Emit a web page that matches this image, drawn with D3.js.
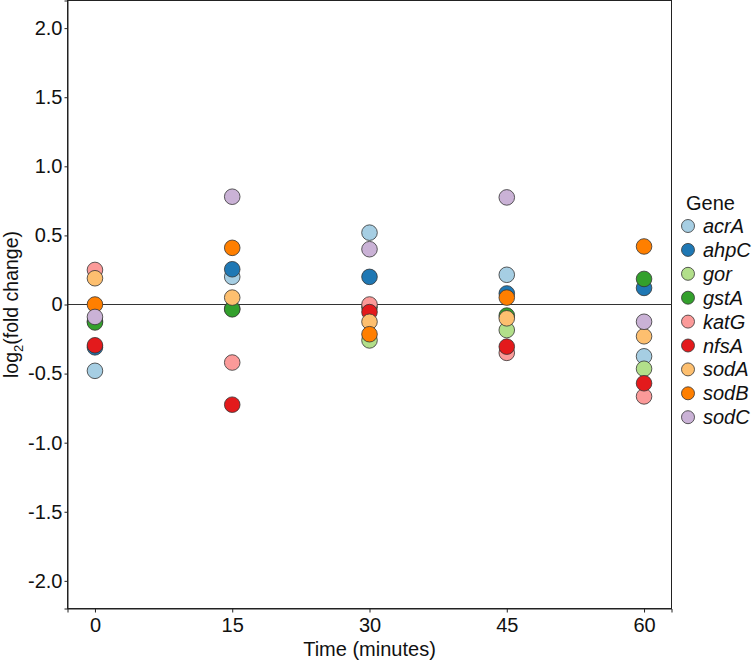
<!DOCTYPE html>
<html>
<head>
<meta charset="utf-8">
<script src="https://cdn.jsdelivr.net/npm/d3@7"></script>
<style>
  html, body { margin: 0; padding: 0; background: #fff; }
  svg { display: block; font-family: "Liberation Sans", Arial, sans-serif; }
</style>
</head>
<body>
<svg id="chart" width="754" height="662"></svg>
<script>
// ---- Data ----
const times = [0, 15, 30, 45, 60];
const genes = ["acrA", "ahpC", "gor", "gstA", "katG", "nfsA", "sodA", "sodB", "sodC"];
const colors = ["#A6CEE3", "#1F78B4", "#B2DF8A", "#33A02C", "#FB9A99", "#E31A1C", "#FDBF6F", "#FF7F00", "#CAB2D6"];
// log2 fold change per gene, at times 0,15,30,45,60
const acrA = [-0.48, 0.20, 0.52, 0.215, -0.375];
const ahpC = [-0.31, 0.255, 0.20, 0.08, 0.12];
const gor  = [-0.12, -0.03, -0.26, -0.185, -0.465];
const gstA = [-0.13, -0.035, -0.02, -0.08, 0.185];
const katG = [0.25, -0.42, 0.0, -0.35, -0.665];
const nfsA = [-0.295, -0.725, -0.055, -0.305, -0.57];
const sodA = [0.19, 0.05, -0.125, -0.10, -0.23];
const sodB = [0.0, 0.41, -0.215, 0.05, 0.42];
const sodC = [-0.09, 0.78, 0.40, 0.775, -0.125];
const yTicks = [-2.0, -1.5, -1.0, -0.5, 0, 0.5, 1.0, 1.5, 2.0];
const yTickLabels = ["-2.0", "-1.5", "-1.0", "-0.5", "0", "0.5", "1.0", "1.5", "2.0"];

(function () {
const series = [acrA, ahpC, gor, gstA, katG, nfsA, sodA, sodB, sodC];
const points = [];
genes.forEach((g, gi) => times.forEach((t, ti) => points.push({gene: g, gi, t, v: series[gi][ti]})));

// ---- Layout ----
const svg = d3.select("#chart");
const pLeft = 67.5, pRight = 671.5, pTop = 0.5, pBottom = 608.5;
const x = d3.scaleLinear().domain([-3, 63]).range([pLeft, pRight]);
const y = d3.scaleLinear().domain([-2.2, 2.2]).range([pBottom, pTop]);
const color = d3.scaleOrdinal().domain(genes).range(colors);
const FS = 20;

// Panel frame
svg.append("rect").attr("x", pLeft).attr("y", pTop).attr("width", pRight - pLeft).attr("height", pBottom - pTop)
  .attr("fill", "none").attr("stroke", "#222").attr("stroke-width", 1);

// zero line
svg.append("line").attr("x1", pLeft).attr("x2", pRight).attr("y1", y(0)).attr("y2", y(0))
  .attr("stroke", "#333").attr("stroke-width", 1.1);

// Y axis
const yAxis = d3.axisLeft(y).tickValues(yTicks).tickSize(3).tickPadding(2)
  .tickFormat((d, i) => yTickLabels[i]);
const gy = svg.append("g").attr("transform", `translate(${pLeft},0)`).call(yAxis);
gy.select(".domain").attr("stroke", "#222");
gy.selectAll(".tick line").attr("stroke", "#222");
gy.selectAll(".tick text").attr("font-size", FS).attr("fill", "#111")
  .attr("font-family", "Liberation Sans, Arial, sans-serif");

// X axis
const xAxis = d3.axisBottom(x).tickValues(times).tickSize(4).tickPadding(5);
const gx = svg.append("g").attr("transform", `translate(0,${pBottom})`).call(xAxis);
gx.select(".domain").attr("stroke", "#222");
gx.selectAll(".tick line").attr("stroke", "#222");
gx.selectAll(".tick text").attr("font-size", FS).attr("fill", "#111")
  .attr("font-family", "Liberation Sans, Arial, sans-serif");

// Axis titles
svg.append("text").attr("x", (pLeft + pRight) / 2).attr("y", 656).attr("text-anchor", "middle")
  .attr("font-size", FS).attr("fill", "#111").text("Time (minutes)");

const yt = svg.append("text").attr("transform", `translate(18,${y(0)}) rotate(-90)`)
  .attr("text-anchor", "middle").attr("font-size", 19.5).attr("fill", "#111");
yt.append("tspan").text("log");
yt.append("tspan").attr("font-size", 13).attr("dy", 5).text("2");
yt.append("tspan").attr("dy", -5).text("(fold change)");

// Points
svg.append("g").selectAll("circle").data(points).join("circle")
  .attr("cx", d => x(d.t)).attr("cy", d => y(d.v)).attr("r", 7.8)
  .attr("fill", d => color(d.gene)).attr("stroke", "#333").attr("stroke-width", 0.8);

// Legend
const lg = svg.append("g");
lg.append("text").attr("x", 686).attr("y", 210).attr("font-size", FS).attr("fill", "#111").text("Gene");
const items = lg.selectAll("g.item").data(genes).join("g").attr("class", "item")
  .attr("transform", (d, i) => `translate(0,${226 + i * 23.9})`);
items.append("circle").attr("cx", 688).attr("cy", 0).attr("r", 6.5)
  .attr("fill", d => color(d)).attr("stroke", "#333").attr("stroke-width", 0.8);
items.append("text").attr("x", 703).attr("y", 7).attr("font-size", FS).attr("font-style", "italic")
  .attr("fill", "#111").text(d => d);
})();
</script>
</body>
</html>
